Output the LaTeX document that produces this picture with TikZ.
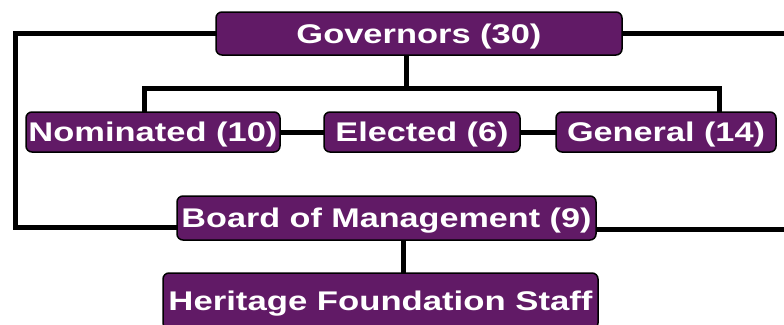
\documentclass[tikz,border=0pt]{standalone}
\usepackage{fontspec}
\usepackage{graphicx}
\usetikzlibrary{backgrounds}
\setmainfont{Liberation Sans}
\definecolor{orgpurple}{HTML}{611A66}
% set the label at its natural height, stretched to a given width
\newcommand{\wlabel}[2]{\resizebox{#1}{\height}{#2}}
\begin{document}
\begin{tikzpicture}[x=1pt,y=-1pt,
  orgbox/.style={draw=black,line width=1.5pt,fill=orgpurple,rounded corners=6pt,
    text=white,font=\fontsize{27}{30}\selectfont\bfseries,inner sep=0pt,
    text height=19.5pt,text depth=0pt,minimum width=#1},
  link/.style={line width=5pt,line join=miter,line cap=rect}]
\useasboundingbox (0,0) rectangle (784,324);

\node[orgbox=406pt,minimum height=43pt] (gov) at (419,33.5) {\wlabel{245pt}{Governors (30)}};
\node[orgbox=254pt,minimum height=40pt] (nom) at (153,132) {\wlabel{249pt}{Nominated (10)}};
\node[orgbox=196pt,minimum height=40pt] (ele) at (422,132) {\wlabel{173pt}{Elected (6)}};
\node[orgbox=220pt,minimum height=40pt] (gen) at (666,132) {\wlabel{198pt}{General (14)}};
\node[orgbox=419pt,minimum height=44pt] (board) at (386.5,218) {\wlabel{410pt}{Board of Management (9)}};
\node[orgbox=435pt,minimum height=56pt] (staff) at (380.5,301) {\wlabel{424pt}{Heritage Foundation Staff}};

% corner and junction points of the connector lines
\coordinate (lt) at (15,33.5);
\coordinate (lb) at (15,227);
\coordinate (rt) at (800,33.5);
\coordinate (rb) at (800,229);
\coordinate (hub) at (406,88);
\coordinate (nt) at (144,88);
\coordinate (gt) at (719,88);
\coordinate (bs) at (403,240);

\begin{scope}[on background layer]
  % outer loop: Governors to Board of Management
  \draw[link] (gov.west) -- (lt) -- (lb) -- (lb -| board.west);
  \draw[link] (gov.east) -- (rt);
  \draw[link] (board.east |- rb) -- (rb);
  % Governors to its three groups
  \draw[link] (gov.south -| hub) -- (hub);
  \draw[link] (nom.north -| nt) -- (nt) -- (gt) -- (gen.north -| gt);
  \draw[link] (nom.east) -- (ele.west);
  \draw[link] (ele.east) -- (gen.west);
  % Board of Management to staff
  \draw[link] (board.south -| bs) -- (staff.north -| bs);
\end{scope}
\end{tikzpicture}
\end{document}
